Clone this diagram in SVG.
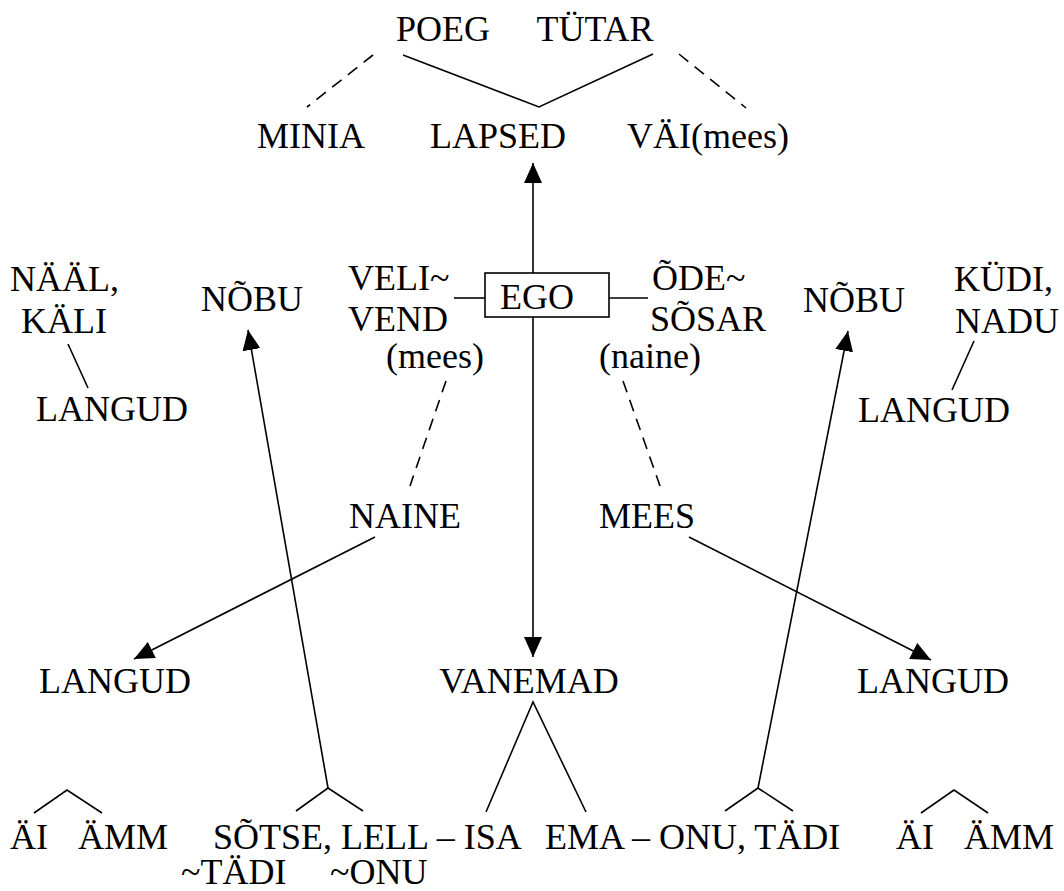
<svg xmlns="http://www.w3.org/2000/svg" width="1064" height="891" viewBox="0 0 1064 891">
  <style>
    text { font-family: "Liberation Serif", "Times New Roman", Times, serif; font-size: 36px; fill: #000; }
    .m { text-anchor: middle; }
    .ln { stroke: #000; stroke-width: 1.6; fill: none; }
    .dash { stroke: #000; stroke-width: 1.6; fill: none; stroke-dasharray: 12 8; }
    .arr { stroke: #000; stroke-width: 1.6; fill: none; marker-end: url(#head); }
  </style>
  <defs>
    <marker id="head" markerUnits="userSpaceOnUse" markerWidth="21" markerHeight="19" refX="20" refY="9" orient="auto">
      <path d="M0,0 L20,9 L0,18 z" fill="#000"/>
    </marker>
  </defs>
  <rect width="1064" height="891" fill="#fff"/>

  <!-- connectors -->
  <g id="connectors">
    <line class="dash" x1="373" y1="55" x2="307" y2="107"/>
    <line class="dash" x1="679" y1="54" x2="746" y2="108"/>
    <polyline class="ln" points="403,55 539,107 653,54"/>
    <line class="arr" x1="533" y1="273" x2="533" y2="163"/>
    <line class="arr" x1="533" y1="317" x2="533" y2="657"/>
    <line class="ln" x1="454" y1="298" x2="485" y2="298"/>
    <line class="ln" x1="609" y1="298" x2="648" y2="298"/>
    <line class="dash" x1="446" y1="381" x2="410" y2="486"/>
    <line class="dash" x1="623" y1="381" x2="660" y2="486"/>
    <line class="arr" x1="375" y1="537" x2="134" y2="659"/>
    <line class="arr" x1="689" y1="537" x2="931" y2="660"/>
    <line class="arr" x1="328" y1="788" x2="248" y2="330"/>
    <line class="arr" x1="758" y1="788" x2="848" y2="331"/>
    <line class="ln" x1="68" y1="344" x2="88" y2="388"/>
    <line class="ln" x1="974" y1="341" x2="952" y2="390"/>
    <polyline class="ln" points="486,812 533,702 586,812"/>
    <polyline class="ln" points="34,813 67,790 102,813"/>
    <polyline class="ln" points="296,811 328,788 363,811"/>
    <polyline class="ln" points="725,811 758,788 793,811"/>
    <polyline class="ln" points="921,813 954,790 988,813"/>
  </g>

  <g font-family="Liberation Serif, serif">
    <!-- children row -->
    <g id="poeg"><text class="m" x="443" y="41">POEG</text></g>
    <g id="tytar"><text class="m" x="595" y="41">TÜTAR</text></g>
    <g id="minia"><text class="m" x="311" y="148">MINIA</text></g>
    <g id="lapsed"><text class="m" x="498" y="148">LAPSED</text></g>
    <g id="vai"><text class="m" x="708" y="148">VÄI(mees)</text></g>

    <!-- ego and siblings -->
    <g id="ego">
      <rect x="485" y="273" width="124" height="44" fill="#fff" stroke="#000" stroke-width="1.6"/>
      <text x="500" y="309">EGO</text>
    </g>
    <g id="veli">
      <text x="348" y="290">VELI~</text>
      <text x="348" y="331">VEND</text>
      <text x="386" y="368">(mees)</text>
    </g>
    <g id="ode">
      <text x="652" y="290">ÕDE~</text>
      <text x="650" y="331">SÕSAR</text>
      <text x="599" y="368">(naine)</text>
    </g>

    <!-- left side -->
    <g id="naal">
      <text x="10" y="291">NÄÄL,</text>
      <text class="m" x="64" y="333">KÄLI</text>
    </g>
    <g id="langud-ul"><text class="m" x="112" y="421">LANGUD</text></g>
    <g id="nobu-l"><text class="m" x="252" y="311">NÕBU</text></g>
    <g id="naine"><text class="m" x="405" y="528">NAINE</text></g>

    <!-- right side -->
    <g id="nobu-r"><text class="m" x="854" y="312">NÕBU</text></g>
    <g id="kudi">
      <text x="954" y="291">KÜDI,</text>
      <text x="955" y="333">NADU</text>
    </g>
    <g id="langud-ur"><text class="m" x="934" y="422">LANGUD</text></g>
    <g id="mees"><text class="m" x="647" y="528">MEES</text></g>

    <!-- parents row -->
    <g id="langud-ll"><text class="m" x="115" y="693">LANGUD</text></g>
    <g id="vanemad"><text class="m" x="529" y="693">VANEMAD</text></g>
    <g id="langud-lr"><text class="m" x="933" y="693">LANGUD</text></g>

    <!-- bottom row -->
    <g id="ai-amm-l">
      <text x="10" y="849">ÄI</text>
      <text x="78" y="849">ÄMM</text>
    </g>
    <g id="isa-side">
      <text x="213" y="849">SÕTSE, LELL – ISA</text>
      <text x="181" y="884">~TÄDI</text>
      <text x="330" y="884">~ONU</text>
    </g>
    <g id="ema-side"><text x="545" y="849">EMA – ONU, TÄDI</text></g>
    <g id="ai-amm-r">
      <text x="896" y="849">ÄI</text>
      <text x="964" y="849">ÄMM</text>
    </g>
  </g>
</svg>
